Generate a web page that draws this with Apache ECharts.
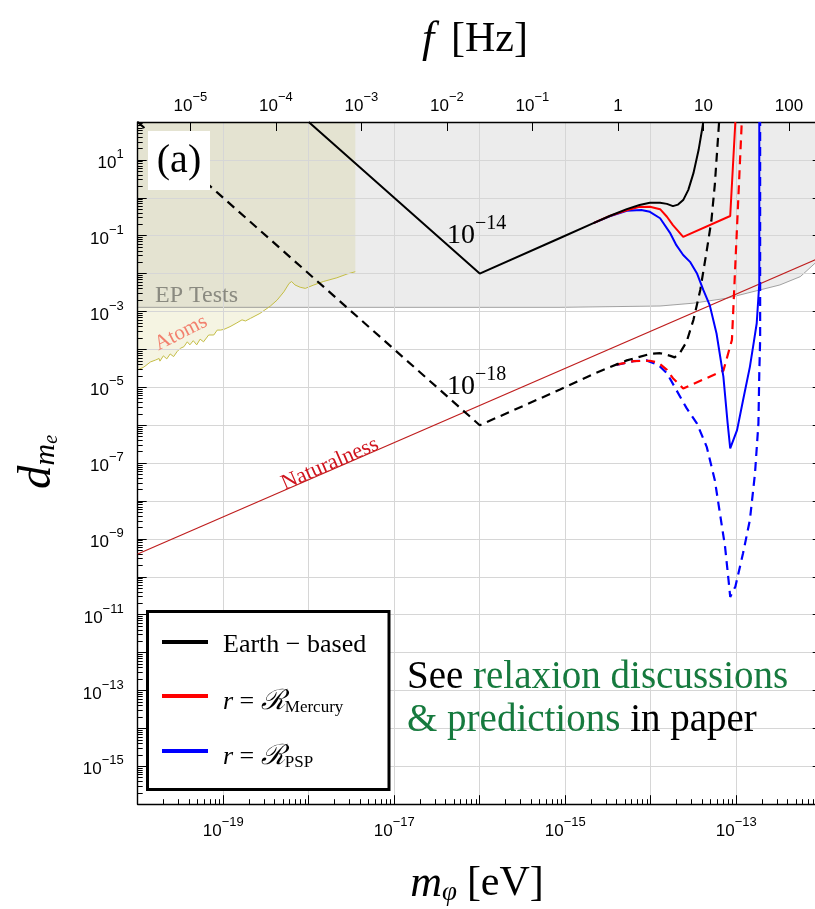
<!DOCTYPE html>
<html lang="en">
<head>
<meta charset="UTF-8">
<title>d_me vs m_phi</title>
<script src="https://cdn.jsdelivr.net/npm/echarts@6/dist/echarts.min.js"></script>
<style>
  html, body { margin: 0; padding: 0; background: #fff; }
  #chart { width: 815px; height: 909px; }
</style>
</head>
<body>
<div id="chart"></div>
<script>
  // every point below is [log10(m_phi / eV), log10(d_me)]
  const epTests = [[-20, -2.89], [-15.06, -2.89], [-13.89, -2.855], [-13.5, -2.78], [-13.11, -2.65],
    [-12.72, -2.43], [-12.49, -2.3], [-12.25, -2.08], [-12.08, -1.73], [-12, -1.5]];
  const atoms = [[-20, -4.54], [-19.93, -4.47], [-19.85, -4.33], [-19.79, -4.28], [-19.75, -4.24],
    [-19.74, -4.31], [-19.7, -4.17], [-19.66, -4.25], [-19.62, -4.12], [-19.58, -4.19], [-19.54, -4.06],
    [-19.5, -3.97], [-19.46, -3.93], [-19.42, -3.8], [-19.39, -3.88], [-19.35, -3.77], [-19.31, -3.88],
    [-19.27, -3.73], [-19.23, -3.8], [-19.17, -3.62], [-19.11, -3.62], [-19.07, -3.49], [-19.03, -3.49],
    [-18.99, -3.47], [-18.92, -3.4], [-18.84, -3.3], [-18.78, -3.22], [-18.74, -3.25], [-18.68, -3.18],
    [-18.57, -3.05], [-18.45, -2.86], [-18.37, -2.7], [-18.29, -2.48], [-18.23, -2.26], [-18.2, -2.21],
    [-18.16, -2.3], [-18.1, -2.36], [-18.04, -2.39], [-17.94, -2.3], [-17.83, -2.21], [-17.67, -2.11],
    [-17.55, -2.01], [-17.455, -1.95]];
  const naturalness = [[-20, -9.4], [-12, -1.56]];

  const earthSolid = [[-18, 2], [-16, -2], [-15.06, -1.06], [-14.67, -0.67], [-14.48, -0.48],
    [-14.28, -0.3], [-14.13, -0.19], [-14.01, -0.13], [-13.89, -0.13], [-13.81, -0.16], [-13.74, -0.22],
    [-13.68, -0.18], [-13.62, -0.06], [-13.56, 0.21], [-13.5, 0.65], [-13.44, 1.26], [-13.4, 1.79], [-13.385, 2]];
  const earthDashed = [[-20, 2], [-16, -6], [-15.06, -5.06], [-14.67, -4.65], [-14.48, -4.47],
    [-14.28, -4.29], [-14.01, -4.12], [-13.89, -4.1], [-13.77, -4.17], [-13.72, -4.21], [-13.66, -4.1],
    [-13.58, -3.8], [-13.5, -3.22], [-13.42, -2.43], [-13.345, -1.4], [-13.29, -0.6], [-13.25, 0.35], [-13.2, 2]];
  const mercurySolid = [[-14.67, -0.67], [-14.48, -0.48],
    [-14.28, -0.33], [-14.13, -0.24], [-14.01, -0.235], [-13.89, -0.3], [-13.81, -0.5], [-13.74, -0.72],
    [-13.62, -1.03], [-13.07, -0.48], [-13.01, 2]];
  const mercuryDashed = [[-14.4, -4.4], [-14.2, -4.31], [-14.01, -4.3], [-13.91, -4.35], [-13.81, -4.54],
    [-13.74, -4.76], [-13.62, -5.03], [-13.15, -4.56], [-13.05, -3.75], [-12.935, 2]];
  const pspSolid = [[-14.67, -0.67], [-14.48, -0.49],
    [-14.28, -0.34], [-14.11, -0.32], [-14.01, -0.37], [-13.89, -0.54], [-13.77, -0.94], [-13.7, -1.25],
    [-13.62, -1.51], [-13.54, -1.69], [-13.46, -1.99], [-13.385, -2.43], [-13.31, -2.83], [-13.23, -3.58],
    [-13.15, -4.72], [-13.1, -5.95], [-13.07, -6.61], [-12.99, -6.13], [-12.92, -5.34], [-12.84, -4.46],
    [-12.79, -3.75], [-12.76, -3.31], [-12.73, -2.26], [-12.73, 2]];
  const pspDashed = [[-14.4, -4.41], [-14.2, -4.31], [-14.05, -4.29], [-13.91, -4.41], [-13.81, -4.63],
    [-13.7, -5.07], [-13.58, -5.55], [-13.46, -5.95], [-13.345, -6.57], [-13.25, -7.45], [-13.19, -8.33],
    [-13.13, -9.21], [-13.09, -10.08], [-13.07, -10.53], [-13.01, -10.26], [-12.92, -9.38], [-12.84, -8.5],
    [-12.78, -7.27], [-12.74, -5.95], [-12.73, -4.63], [-12.72, -3.75], [-12.72, 2]];

  const xRange = [1e-20, 1e-12];      // m_phi [eV]
  const yRange = [1e-16, 1e2];        // d_me
  const hzPerEV = 2.418e14;           // f = m c^2 / h

  const serif = "'Liberation Serif', 'DejaVu Serif', serif";
  const sans = "'Liberation Sans', Arial, sans-serif";

  const toData = pts => pts.map(p => [Math.pow(10, p[0]), Math.pow(10, p[1])]);
  const supText = e => String(e).replace('-', '\u2212');
  const oddPower = v => {
    const e = Math.round(Math.log10(v));
    return e % 2 === 0 ? '' : '{b|10}{s|' + supText(e) + '}';
  };
  const hzLabel = v => {
    const l = Math.log10(v), e = Math.round(l);
    if (Math.abs(l - e) > 1e-6) return '';
    if (e === 0) return '{b|1}';
    if (e === 1) return '{b|10}';
    if (e === 2) return '{b|100}';
    return '{b|10}{s|' + supText(e) + '}';
  };
  const labelStyle = {
    color: '#000', fontSize: 17, fontFamily: sans,
    rich: {
      b: { fontSize: 17, fontFamily: sans, color: '#000', lineHeight: 24, verticalAlign: 'bottom' },
      s: { fontSize: 13, fontFamily: sans, color: '#000', lineHeight: 13, verticalAlign: 'top' }
    }
  };
  const powerRich = {
    b: { fontFamily: serif, fontSize: 28, fill: '#000', lineHeight: 36, verticalAlign: 'bottom' },
    s: { fontFamily: serif, fontSize: 20, fill: '#000', lineHeight: 20, verticalAlign: 'top' }
  };

  function curve(name, pts, color, dashed, z) {
    return {
      name: name, type: 'line', data: toData(pts), symbol: 'none', z: z, animation: false,
      lineStyle: { color: color, width: dashed ? 2.2 : 2, type: dashed ? [9, 6] : 'solid' }
    };
  }

  const chart = echarts.init(document.getElementById('chart'));
  const option = {
    animation: false,
    backgroundColor: '#fff',
    grid: { left: 137.7, top: 122, width: 684, height: 682.2, outerBoundsMode: 'none', containLabel: false },
    xAxis: [{
      type: 'log', min: xRange[0], max: xRange[1], interval: 1, z: 1,
      axisLine: { lineStyle: { color: '#000', width: 1.4 } },
      axisTick: { inside: true, length: 9, lineStyle: { color: '#000' } },
      minorTick: { show: true, splitNumber: 9, length: 5, lineStyle: { color: '#000' } },
      splitLine: { show: true, lineStyle: { color: '#d6d6d6', width: 1 } },
      axisLabel: Object.assign({ margin: 12, formatter: oddPower }, labelStyle)
    }, {
      type: 'log', position: 'top', min: xRange[0] * hzPerEV, max: xRange[1] * hzPerEV, splitNumber: 8, z: 1,
      axisLine: { lineStyle: { color: '#000', width: 1.4 } },
      axisTick: { inside: true, length: 9, lineStyle: { color: '#000' } },
      splitLine: { show: false },
      axisLabel: Object.assign({ margin: 7, formatter: hzLabel }, labelStyle)
    }],
    yAxis: [{
      type: 'log', min: yRange[0], max: yRange[1], interval: 1, z: 1,
      axisLine: { lineStyle: { color: '#000', width: 1.4 } },
      axisTick: { inside: true, length: 9, lineStyle: { color: '#000' } },
      minorTick: { show: true, splitNumber: 9, length: 5, lineStyle: { color: '#000' } },
      splitLine: { show: true, lineStyle: { color: '#d6d6d6', width: 1 } },
      axisLabel: Object.assign({ margin: 14, formatter: oddPower }, labelStyle)
    }, {
      type: 'log', position: 'right', min: yRange[0], max: yRange[1], interval: 1, z: 1,
      axisLine: { show: true, lineStyle: { color: '#000', width: 1.4 } },
      axisTick: { inside: true, length: 9, lineStyle: { color: '#000' } },
      minorTick: { show: true, splitNumber: 9, length: 5, lineStyle: { color: '#000' } },
      splitLine: { show: false },
      axisLabel: { show: false }
    }],
    series: [
      {
        name: 'EP Tests', type: 'line', data: toData(epTests), symbol: 'none', z: 0,
        lineStyle: { color: '#8c8c8c', width: 0.8 },
        areaStyle: { origin: 'end', color: '#ececec', opacity: 1 }
      },
      {
        name: 'Atoms', type: 'line', data: toData(atoms), symbol: 'none', z: 0,
        lineStyle: { color: '#c4bd45', width: 1 },
        areaStyle: { origin: 'end', color: 'rgba(190,180,60,0.15)', opacity: 1 }
      },
      {
        name: 'Naturalness', type: 'line', data: toData(naturalness), symbol: 'none', z: 2,
        lineStyle: { color: '#bf1e1e', width: 1.2 }
      },
      curve('PSP 1e-18', pspDashed, '#0000ff', true, 3),
      curve('Mercury 1e-18', mercuryDashed, '#ff0000', true, 3),
      curve('Earth 1e-18', earthDashed, '#000', true, 4),
      curve('PSP 1e-14', pspSolid, '#0000ff', false, 5),
      curve('Mercury 1e-14', mercurySolid, '#ff0000', false, 6),
      curve('Earth 1e-14', earthSolid, '#000', false, 7)
    ],
    graphic: [
      // panel tag
      { type: 'rect', z: 100, shape: { x: 148, y: 131, width: 62, height: 59 }, style: { fill: '#fff' } },
      { type: 'text', z: 101, x: 179, y: 161, style: { text: '(a)', fontFamily: serif, fontSize: 40, fill: '#000', align: 'center', verticalAlign: 'middle' } },
      // region labels
      { type: 'text', z: 101, x: 155, y: 296, style: { text: 'EP Tests', fontFamily: serif, fontSize: 24, fill: '#8a8a80', verticalAlign: 'middle' } },
      { type: 'text', z: 101, x: 181, y: 333, rotation: 0.47, style: { text: 'Atoms', fontFamily: serif, fontSize: 21, fill: '#f2806e', align: 'center', verticalAlign: 'middle' } },
      { type: 'text', z: 101, x: 330, y: 464, rotation: 0.41, style: { text: 'Naturalness', fontFamily: serif, fontSize: 22, fill: '#d0141e', align: 'center', verticalAlign: 'middle' } },
      { type: 'text', z: 101, x: 447, y: 232, style: { text: '{b|10}{s|\u221214}', verticalAlign: 'middle', rich: powerRich } },
      { type: 'text', z: 101, x: 447, y: 383, style: { text: '{b|10}{s|\u221218}', verticalAlign: 'middle', rich: powerRich } },
      // legend
      { type: 'rect', z: 100, shape: { x: 147.5, y: 611.5, width: 241.5, height: 178 }, style: { fill: '#fff', stroke: '#000', lineWidth: 3 } },
      { type: 'line', z: 101, shape: { x1: 162, y1: 642, x2: 208, y2: 642 }, style: { stroke: '#000', lineWidth: 4 } },
      { type: 'line', z: 101, shape: { x1: 162, y1: 696, x2: 208, y2: 696 }, style: { stroke: '#ff0000', lineWidth: 4 } },
      { type: 'line', z: 101, shape: { x1: 162, y1: 751, x2: 208, y2: 751 }, style: { stroke: '#0000ff', lineWidth: 4 } },
      { type: 'text', z: 101, x: 223, y: 645, style: { text: 'Earth \u2212 based', fontFamily: serif, fontSize: 26, fill: '#000', verticalAlign: 'middle' } },
      { type: 'text', z: 101, x: 223, y: 702, style: { text: '{i|r} = {c|\u211B}{sub|Mercury}', verticalAlign: 'middle', fontFamily: serif, fontSize: 26, fill: '#000', rich: { i: { fontFamily: serif, fontStyle: 'italic', fontSize: 26 }, c: { fontFamily: serif, fontStyle: 'italic', fontSize: 28 }, sub: { fontFamily: serif, fontSize: 17, verticalAlign: 'bottom' } } } },
      { type: 'text', z: 101, x: 223, y: 757, style: { text: '{i|r} = {c|\u211B}{sub|PSP}', verticalAlign: 'middle', fontFamily: serif, fontSize: 26, fill: '#000', rich: { i: { fontFamily: serif, fontStyle: 'italic', fontSize: 26 }, c: { fontFamily: serif, fontStyle: 'italic', fontSize: 28 }, sub: { fontFamily: serif, fontSize: 17, verticalAlign: 'bottom' } } } },
      // note
      { type: 'text', z: 101, x: 407, y: 699, style: { text: '{k|See }{g|relaxion discussions}\n{g|& predictions}{k| in paper}', verticalAlign: 'middle', rich: { k: { fontFamily: serif, fontSize: 39, fill: '#000', lineHeight: 43 }, g: { fontFamily: serif, fontSize: 39, fill: '#167a3e', lineHeight: 43 } } } },
      // axis titles
      { type: 'text', z: 101, x: 475, y: 40, style: { text: '{i|f}     {r|[Hz]}', align: 'center', verticalAlign: 'middle', rich: { i: { fontFamily: serif, fontStyle: 'italic', fontSize: 44, fill: '#000' }, r: { fontFamily: serif, fontSize: 42, fill: '#000' } } } },
      { type: 'text', z: 101, x: 477, y: 884, style: { text: '{i|m}{sub|\u03C6}   {r|[eV]}', align: 'center', verticalAlign: 'middle', rich: { i: { fontFamily: serif, fontStyle: 'italic', fontSize: 44, fill: '#000' }, sub: { fontFamily: serif, fontStyle: 'italic', fontSize: 27, fill: '#000', verticalAlign: 'bottom' }, r: { fontFamily: serif, fontSize: 42, fill: '#000' } } } },
      { type: 'text', z: 101, x: 38, y: 462, rotation: Math.PI / 2, style: { text: '{i|d}{sub|m}{ss|e}', align: 'center', verticalAlign: 'middle', rich: { i: { fontFamily: serif, fontStyle: 'italic', fontSize: 47, fill: '#000' }, sub: { fontFamily: serif, fontStyle: 'italic', fontSize: 30, fill: '#000', verticalAlign: 'bottom' }, ss: { fontFamily: serif, fontStyle: 'italic', fontSize: 20, fill: '#000', verticalAlign: 'bottom' } } } }
    ]
  };
  chart.setOption(option);
</script>
</body>
</html>
